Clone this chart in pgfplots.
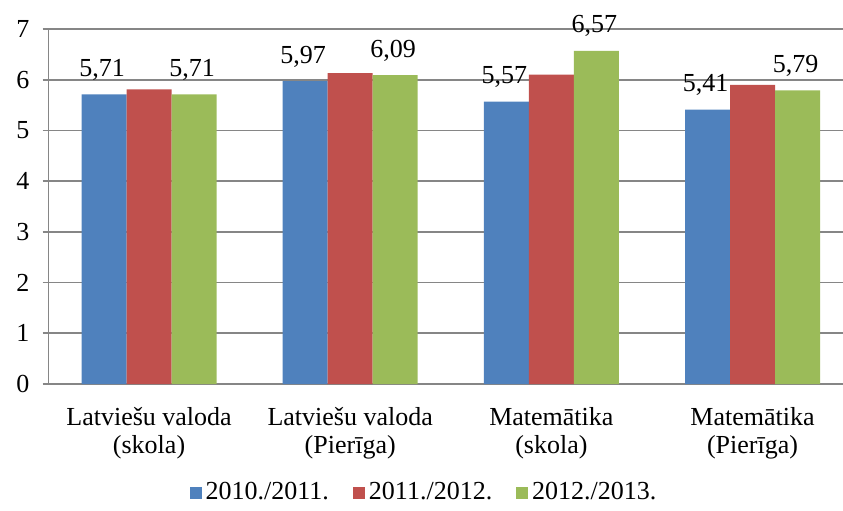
\documentclass[border=0pt]{standalone}
\usepackage{pgfplots}
\pgfplotsset{compat=1.18}
\usepackage{fontspec}
\setmainfont{Liberation Serif}
\definecolor{cblue}{RGB}{79,129,189}
\definecolor{cred}{RGB}{192,80,77}
\definecolor{cgreen}{RGB}{155,187,89}
\definecolor{cgrid}{RGB}{134,134,134}
\begin{document}
\fontsize{13}{14}\selectfont
\begin{tikzpicture}
\begin{axis}[
  name=ax,
  scale only axis,
  width=397.25pt, height=177.5pt,
  xmin=-0.5, xmax=3.45,
  ymin=0, ymax=7,
  ytick={0,1,...,7},
  /pgf/number format/assume math mode=true,
  axis lines=left,
  axis line style={-, cgrid, line width=0.8pt},
  ymajorgrids,
  grid style={cgrid, line width=0.8pt},
  tick style={cgrid, line width=0.8pt},
  major tick length=3pt,
  tick align=outside,
  xtick={0,1,2,3},
  xticklabels={{Latviešu valoda\\(skola)},{Latviešu valoda\\(Pierīga)},{Matemātika\\(skola)},{Matemātika\\(Pierīga)}},
  xticklabel style={align=center, font=\fontsize{13}{14}\selectfont, yshift=-4pt},
  x tick style={draw=none},
  extra x ticks={-0.5,0.5,1.5,2.5},
  extra x tick labels={},
  extra x tick style={tick style={cgrid, line width=0.8pt, draw=cgrid}, major tick length=4pt, grid=none},
  yticklabel style={font=\fontsize{13}{14}\selectfont, xshift=-2pt},
  ybar=0pt,
  bar width=22.5pt,
  legend style={at={(rel axis cs:0.474,-0.307)}, anchor=center, draw=none, fill=none,
    legend columns=3, font=\fontsize{13}{14}\selectfont,
    /tikz/every even column/.append style={column sep=10pt}},
  legend image code/.code={\fill[#1] (0pt,-3pt) rectangle (6pt,3pt);},
  clip=false,
]
\addplot[fill=cblue, draw=none,
  nodes near coords={\pgfmathprintnumber[use comma,fixed,fixed zerofill,precision=2]{\pgfplotspointmeta}},
  every node near coord/.append style={anchor=base, yshift=9pt, xshift=-1pt, text=black, font=\fontsize{13}{14}\selectfont}]
  coordinates {(0,5.71) (1,5.97) (2,5.57) (3,5.41)};
\addplot[fill=cred, draw=none]
  coordinates {(0,5.81) (1,6.13) (2,6.10) (3,5.90)};
\addplot[fill=cgreen, draw=none,
  nodes near coords={\pgfmathprintnumber[use comma,fixed,fixed zerofill,precision=2]{\pgfplotspointmeta}},
  every node near coord/.append style={anchor=base, yshift=9pt, xshift=-1pt, text=black, font=\fontsize{13}{14}\selectfont}]
  coordinates {(0,5.71) (1,6.09) (2,6.57) (3,5.79)};
\legend{2010./2011.,2011./2012.,2012./2013.}
\end{axis}
\pgfresetboundingbox
\path[use as bounding box] ([xshift=-24.25pt,yshift=-63pt]ax.south west) rectangle ([yshift=14.5pt]ax.north east);
\end{tikzpicture}
\end{document}
